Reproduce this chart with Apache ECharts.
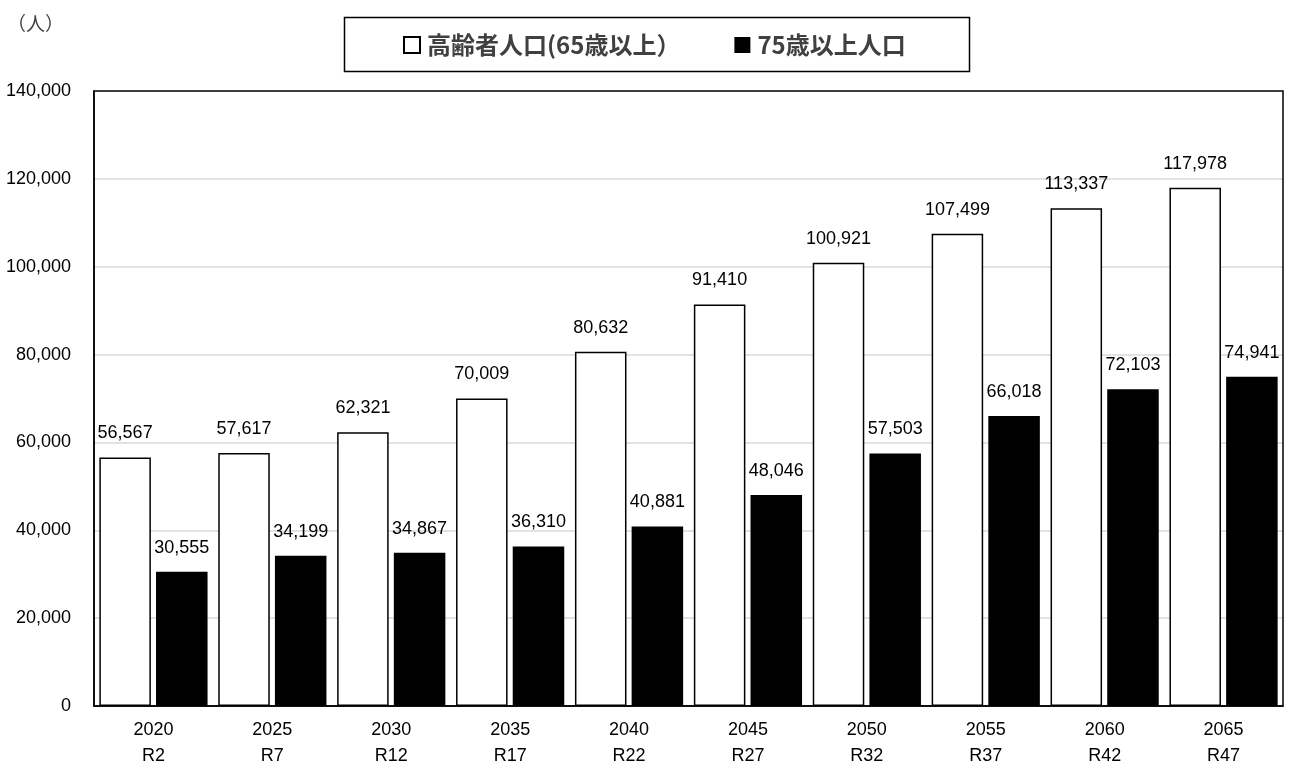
<!DOCTYPE html>
<html>
<head>
<meta charset="utf-8">
<script src="https://cdn.jsdelivr.net/npm/echarts@6/dist/echarts.min.js"></script>
<style>html,body{margin:0;padding:0;background:#fff;}#c{width:1295px;height:769px;}</style>
</head>
<body>
<div id="c"></div>
<script>
const years = ['2020','2025','2030','2035','2040','2045','2050','2055','2060','2065'];
const reiwa = ['R2','R7','R12','R17','R22','R27','R32','R37','R42','R47'];
const elderly65 = [56567,57617,62321,70009,80632,91410,100921,107499,113337,117978];
const elderly75 = [30555,34199,34867,36310,40881,48046,57503,66018,72103,74941];
const seriesNames = ['高齢者人口(65歳以上）','75歳以上人口'];
const yTicks = {min:0, max:140000, interval:20000};

const fmt = v => String(v).replace(/\B(?=(\d{3})+(?!\d))/g, ',');
const numFont = 'Liberation Sans, Arial, sans-serif';
const cats = years.map((y,i)=> y + '\n' + reiwa[i]);

const chart = echarts.init(document.getElementById('c'));
chart.setOption({
  animation:false,
  backgroundColor:'#fff',
  title:{text:'（人）', left:2, top:9, textStyle:{fontSize:19, fontWeight:'normal', color:'#404040', fontFamily:'Noto Sans CJK JP'}},
  graphic:[{type:'rect', left:342, top:15, shape:{width:625, height:54}, style:{fill:'none', stroke:'#000', lineWidth:1.5}, z:-1}],
  legend:{
    left:398, top:28, itemWidth:16, itemHeight:16, itemGap:54,
    icon:'rect',
    textStyle:{fontSize:24, fontWeight:'bold', color:'#404040', fontFamily:'Noto Sans CJK JP', padding:[0,0,0,2]},
    data:seriesNames
  },
  grid:{left:94, right:12, top:91, bottom:59, show:true, borderColor:'#000', borderWidth:1.5, containLabel:false, z:3},
  xAxis:{
    type:'category', data:cats,
    axisLine:{show:true, lineStyle:{color:'#000', width:1.5}},
    axisTick:{show:false},
    axisLabel:{color:'#000', fontSize:18, fontFamily:numFont, lineHeight:26, margin:11, interval:0}
  },
  yAxis:{
    type:'value', min:yTicks.min, max:yTicks.max, interval:yTicks.interval,
    axisLine:{show:true, lineStyle:{color:'#000', width:1.5}},
    axisTick:{show:false},
    splitLine:{showMaxLine:false, showMinLine:false, lineStyle:{color:'#d9d9d9', width:1.5}},
    axisLabel:{color:'#000', fontSize:18, fontFamily:numFont, margin:23, formatter:v=>fmt(v)}
  },
  series:[
    {name:seriesNames[0], type:'bar', data:elderly65, barGap:'10%', barCategoryGap:'9%',
     itemStyle:{color:'#fff', borderColor:'#000', borderWidth:1.5},
     label:{show:true, position:'top', distance:15, color:'#000', fontSize:18, fontFamily:numFont, formatter:p=>fmt(p.value)}},
    {name:seriesNames[1], type:'bar', data:elderly75,
     itemStyle:{color:'#000'},
     label:{show:true, position:'top', distance:15, color:'#000', fontSize:18, fontFamily:numFont, formatter:p=>fmt(p.value)}}
  ]
});
</script>
</body>
</html>
